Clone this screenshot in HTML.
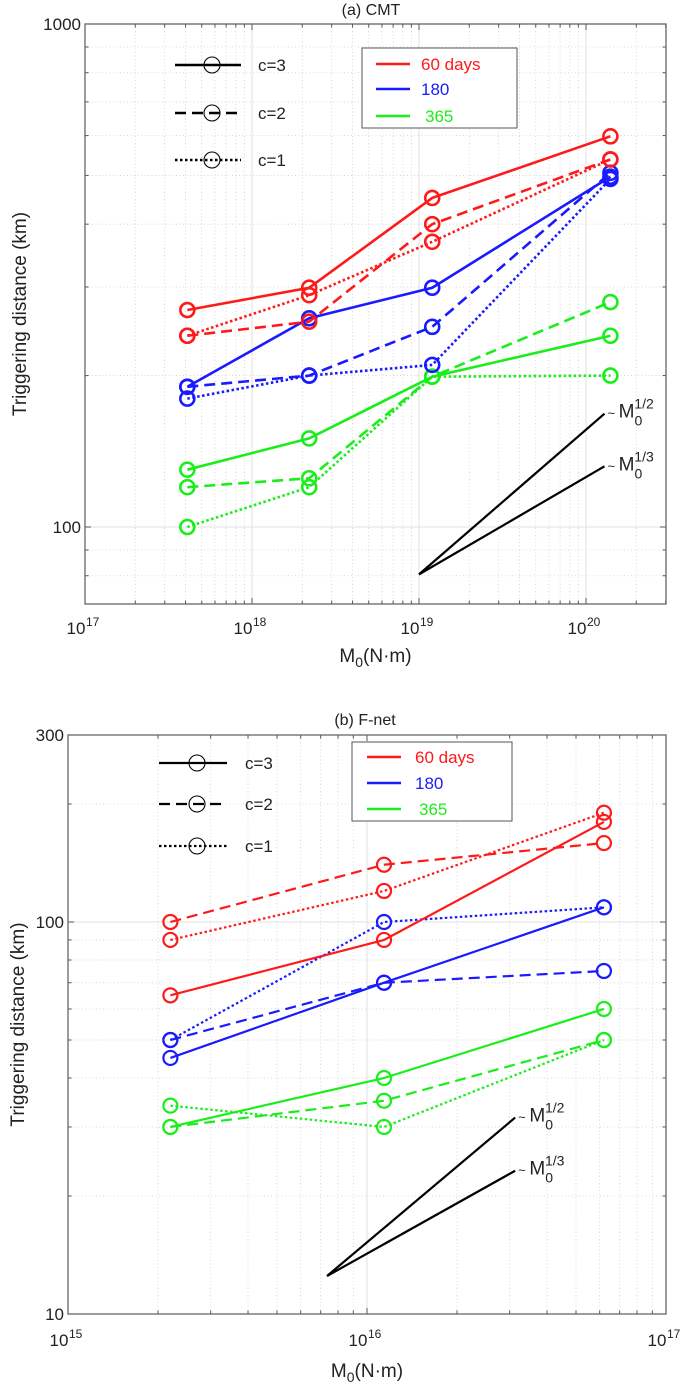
<!DOCTYPE html>
<html><head><meta charset="utf-8">
<style>
html,body{margin:0;padding:0;background:#fff;}
svg{display:block;font-family:"Liberation Sans",Arial,sans-serif;}
</style></head>
<body>
<svg id="fig" width="685" height="1393" viewBox="0 0 685 1393"></svg>
<script>
// ---- Panel (a) CMT data ----
const cmtMoments = [4.1e17, 2.2e18, 1.2e19, 1.4e20];
const cmtRed_c3 = [270, 299, 451, 598];
const cmtRed_c2 = [240, 256, 400, 538];
const cmtRed_c1 = [240, 289, 369, 538];
const cmtBlue_c3 = [190, 260, 299, 497];
const cmtBlue_c2 = [190, 200, 250, 506];
const cmtBlue_c1 = [180, 200, 210, 492];
const cmtGreen_c3 = [130, 150, 199, 240];
const cmtGreen_c2 = [120, 125, 199, 280];
const cmtGreen_c1 = [100, 120, 199, 200];
const cmtRefX = [1e19, 1.29e20];
const cmtRefHalf = [80.5, 168];
const cmtRefThird = [80.5, 132];
const cmtYTicks = [100, 1000];
const cmtXTicks = [17, 18, 19, 20];

// ---- Panel (b) F-net data ----
const fnetMoments = [2.2e15, 1.14e16, 6.2e16];
const fnetRed_c3 = [65, 90, 180];
const fnetRed_c2 = [100, 140, 159];
const fnetRed_c1 = [90, 120, 190];
const fnetBlue_c3 = [45, 70, 109];
const fnetBlue_c2 = [50, 70, 75];
const fnetBlue_c1 = [50, 100, 109];
const fnetGreen_c3 = [30, 40, 60];
const fnetGreen_c2 = [30, 35, 50];
const fnetGreen_c1 = [34, 30, 50];
const fnetRefX = [7.35e15, 3.13e16];
const fnetRefHalf = [12.5, 31.7];
const fnetRefThird = [12.5, 23.2];
const fnetYTicks = [10, 100, 300];
const fnetXTicks = [15, 16, 17];

const NS = "http://www.w3.org/2000/svg";
const svg = document.getElementById('fig');
function mk(tag, attrs, parent){
  const e = document.createElementNS(NS, tag);
  for (const k in attrs) e.setAttribute(k, attrs[k]);
  (parent||svg).appendChild(e);
  return e;
}
const RED='#ff1a1a', BLUE='#1a1aff', GREEN='#1aee1a';
const DASH={c3:null,c2:'11 6',c1:'2.5 2.5'};

function panel(cfg){
  const g = mk('g',{});
  
  
  const L=cfg.left,R=cfg.right,T=cfg.top,B=cfg.bottom;
  const xs = v => L + (Math.log10(v)-cfg.xmin)*cfg.xdec;
  const ys = v => B - (Math.log10(v)-cfg.ymin)*cfg.ydec;
  const grid = mk('g',{},g);
  
  
  for(let d=Math.floor(cfg.xmin); d<=Math.ceil(cfg.xmax); d++){
    for(let m=1;m<=9;m++){
      const v=m*Math.pow(10,d); const x=xs(v);
      if(x<L-0.5||x>R+0.5) continue;
      if(m===1){ mk('line',{x1:x,y1:T,x2:x,y2:B,stroke:'#e2e2e2','stroke-width':1},grid); }
      else { mk('line',{x1:x,y1:T,x2:x,y2:B,stroke:'#cfcfcf','stroke-width':0.8,'stroke-dasharray':'1 2.5'},grid); }
      const tl = m===1?6:3.5;
      mk('line',{x1:x,y1:B,x2:x,y2:B-tl,stroke:'#555','stroke-width':1},grid);
      mk('line',{x1:x,y1:T,x2:x,y2:T+tl,stroke:'#555','stroke-width':1},grid);
    }
  }
  for(let d=Math.floor(cfg.ymin); d<=Math.ceil(cfg.ymax); d++){
    for(let m=1;m<=9;m++){
      const v=m*Math.pow(10,d); const y=ys(v);
      if(y<T-0.5||y>B+0.5) continue;
      if(m===1){ mk('line',{x1:L,y1:y,x2:R,y2:y,stroke:'#e2e2e2','stroke-width':1},grid); }
      else { mk('line',{x1:L,y1:y,x2:R,y2:y,stroke:'#cfcfcf','stroke-width':0.8,'stroke-dasharray':'1 2.5'},grid); }
      const tl = m===1?6:3.5;
      mk('line',{x1:L,y1:y,x2:L+tl,y2:y,stroke:'#555','stroke-width':1},grid);
      mk('line',{x1:R,y1:y,x2:R-tl,y2:y,stroke:'#555','stroke-width':1},grid);
    }
  }
  const box = mk('rect',{x:L,y:T,width:R-L,height:B-T,fill:'none',stroke:'#666','stroke-width':1.3},g);
  
  
  cfg.yticks.forEach(v=>{
    const t = mk('text',{x:L-4,y:ys(v)+6,'text-anchor':'end','font-size':17,fill:'#222'},g);
    t.textContent = String(v);
    
    
  });
  cfg.xticks.forEach(p=>{
    const x = xs(Math.pow(10,p));
    const t = mk('text',{x:x-9,y:cfg.xlabY,'text-anchor':'middle','font-size':17,fill:'#222'},g);
    t.textContent='10';
    
    
    const s = mk('text',{x:x+1,y:cfg.xlabY-8,'font-size':12,fill:'#222'},g);
    s.textContent=String(p);
    
    
  });
  const tt = mk('text',{x:cfg.titleX,y:cfg.titleY,'text-anchor':'middle','font-size':16,fill:'#222'},g);
  tt.textContent = cfg.title;
  
  
  const yl = mk('text',{x:0,y:0,'text-anchor':'middle','font-size':19,fill:'#222',transform:`translate(${cfg.ylabX},${(T+B)/2}) rotate(-90)`},g);
  yl.textContent='Triggering distance (km)';
  
  
  const xl = mk('text',{x:(L+R)/2,y:cfg.xtitleY,'text-anchor':'middle','font-size':19,fill:'#222'},g);
  
  
  const a=document.createElementNS(NS,'tspan'); a.textContent='M'; xl.appendChild(a);
  const b=document.createElementNS(NS,'tspan'); b.setAttribute('font-size','14'); b.setAttribute('dy','5'); b.textContent='0'; xl.appendChild(b);
  const c=document.createElementNS(NS,'tspan'); c.setAttribute('dy','-5'); c.textContent='(N·m)'; xl.appendChild(c);
  [[cfg.refHalf,'1/2'],[cfg.refThird,'1/3']].forEach(([arr,lab])=>{
    const pl = mk('polyline',{points:cfg.refX.map((v,i)=>xs(v)+','+ys(arr[i])).join(' '),fill:'none',stroke:'#000','stroke-width':2.2},g);
    
    
    const x0 = xs(cfg.refX[1])+3, y0 = ys(arr[1]);
    const t = mk('text',{x:x0,y:y0+4,'font-size':19,fill:'#222'},g);
    
    
    const t1=document.createElementNS(NS,'tspan'); t1.setAttribute('font-size','13'); t1.textContent='~ '; t.appendChild(t1);
    const t2=document.createElementNS(NS,'tspan'); t2.textContent='M'; t.appendChild(t2);
    const t3=document.createElementNS(NS,'tspan'); t3.setAttribute('font-size','14'); t3.setAttribute('dy','8'); t3.textContent='0'; t.appendChild(t3);
    const t4=document.createElementNS(NS,'tspan'); t4.setAttribute('font-size','14'); t4.setAttribute('dx','-8'); t4.setAttribute('dy','-17'); t4.textContent=lab; t.appendChild(t4);
  });
  cfg.series.forEach(s=>{
    const pts = cfg.xv.map((v,i)=>[xs(v), ys(s.vals[i])]);
    const at = {points:pts.map(p=>p.join(',')).join(' '),fill:'none',stroke:s.color,'stroke-width':cfg.lw};
    if(DASH[s.c]) at['stroke-dasharray']=DASH[s.c];
    const pl = mk('polyline',at,g);
    
    
    pts.forEach(p=>{
      const ci = mk('circle',{cx:p[0],cy:p[1],r:cfg.r,fill:'none',stroke:s.color,'stroke-width':cfg.lw},g);
      
      
    });
  });
  const lg = mk('g',{},g);
  
  
  [['c3','c=3'],['c2','c=2'],['c1','c=1']].forEach(([k,lab],i)=>{
    const y = cfg.lgY[i];
    const at={x1:cfg.lgX1,y1:y,x2:cfg.lgX2,y2:y,stroke:'#000','stroke-width':cfg.lw};
    if(DASH[k]) at['stroke-dasharray']=DASH[k];
    const ln = mk('line',at,lg);
    
    
    const cc = mk('circle',{cx:cfg.lgC,cy:y,r:cfg.r+1,fill:'none',stroke:'#000','stroke-width':1.1},lg);
    
    
    const t = mk('text',{x:cfg.lgT,y:y+6,'font-size':17,fill:'#222'},lg);
    t.textContent=lab;
    
    
  });
  const cl = mk('g',{},g);
  
  
  const cb = mk('rect',{x:cfg.cb[0],y:cfg.cb[1],width:cfg.cb[2],height:cfg.cb[3],fill:'#fff',stroke:'#555','stroke-width':1},cl);
  
  
  [[RED,'60 days'],[BLUE,'180'],[GREEN,' 365']].forEach(([col,lab],i)=>{
    const y=cfg.clY[i];
    const ln = mk('line',{x1:cfg.clX1,y1:y,x2:cfg.clX2,y2:y,stroke:col,'stroke-width':2.5},cl);
    
    
    const t = mk('text',{x:cfg.clT+(i===2?4:0),y:y+6,'font-size':17,fill:col},cl);
    t.textContent=lab.trim();
    
    
  });
}

function series(r3,r2,r1,b3,b2,b1,g3,g2,g1){
  return [
    {label:'365',color:GREEN,c:'c1',vals:g1},{label:'365',color:GREEN,c:'c2',vals:g2},{label:'365',color:GREEN,c:'c3',vals:g3},
    {label:'180',color:BLUE,c:'c1',vals:b1},{label:'180',color:BLUE,c:'c2',vals:b2},{label:'180',color:BLUE,c:'c3',vals:b3},
    {label:'60days',color:RED,c:'c1',vals:r1},{label:'60days',color:RED,c:'c2',vals:r2},{label:'60days',color:RED,c:'c3',vals:r3}
  ];
}

panel({name:'panel-a-cmt',left:85,right:666,top:24,bottom:604,xmin:17,xmax:20.48,xdec:167,
  ymin:Math.log10(1000)-(604-24)/503,ymax:3,ydec:503,
  yticks:cmtYTicks,xticks:cmtXTicks,xlabY:634,title:'(a) CMT',titleX:371,titleY:15,
  ylabX:26,xtitleY:662,xv:cmtMoments,lw:2.6,r:7,
  refX:cmtRefX,refHalf:cmtRefHalf,refThird:cmtRefThird,
  series:series(cmtRed_c3,cmtRed_c2,cmtRed_c1,cmtBlue_c3,cmtBlue_c2,cmtBlue_c1,cmtGreen_c3,cmtGreen_c2,cmtGreen_c1),
  lgY:[65,113,160],lgX1:175,lgX2:241,lgC:212,lgT:258,
  cb:[362,48,155,80],clY:[64,89,116],clX1:376,clX2:410,clT:421});

panel({name:'panel-b-fnet',left:68,right:666,top:735,bottom:1314,xmin:15,xmax:17,xdec:299,
  ymin:1,ymax:Math.log10(300),ydec:392,
  yticks:fnetYTicks,xticks:fnetXTicks,xlabY:1346,title:'(b) F-net',titleX:365,titleY:725,
  ylabX:24,xtitleY:1377,xv:fnetMoments,lw:2.2,r:7,
  refX:fnetRefX,refHalf:fnetRefHalf,refThird:fnetRefThird,
  series:series(fnetRed_c3,fnetRed_c2,fnetRed_c1,fnetBlue_c3,fnetBlue_c2,fnetBlue_c1,fnetGreen_c3,fnetGreen_c2,fnetGreen_c1),
  lgY:[763,804,846],lgX1:159,lgX2:227,lgC:197,lgT:245,
  cb:[352,742,160,79],clY:[757,783,809],clX1:367,clX2:401,clT:415});
</script>
</body></html>
